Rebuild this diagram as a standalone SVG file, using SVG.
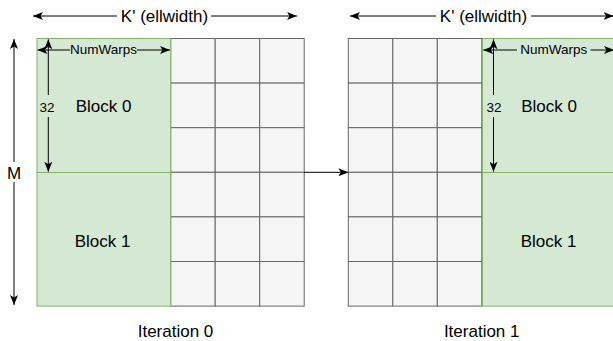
<svg xmlns="http://www.w3.org/2000/svg" width="613" height="341" viewBox="0 0 613 341">
  <style>
    .cell { fill: #f5f5f5; stroke: #666666; stroke-width: 1; }
    .block { fill: #d5e8d4; stroke: #82b366; stroke-width: 1; }
    .edge { fill: none; stroke: #000000; stroke-width: 1; }
    .both { marker-start: url(#arrow); marker-end: url(#arrow); }
    .one { marker-end: url(#arrow); }
    text { font-family: "Liberation Sans", Arial, sans-serif; fill: #000000; text-anchor: middle; }
    .big { font-size: 17px; }
    .small { font-size: 13.5px; }
  </style>
  <defs>
    <marker id="arrow" viewBox="0 0 10 8" refX="10" refY="4" markerWidth="10" markerHeight="8" markerUnits="userSpaceOnUse" orient="auto-start-reverse">
      <path d="M0,0 L10,4 L0,8 L2.5,4 Z" fill="#000000"/>
    </marker>
    <!-- 3 x 6 grid of cells, 44.5 x 44.6 each -->
    <g id="cellgrid">
      <rect class="cell" x="0" y="0" width="44.5" height="44.6"/>
      <rect class="cell" x="44.5" y="0" width="44.5" height="44.6"/>
      <rect class="cell" x="89" y="0" width="44.5" height="44.6"/>
      <rect class="cell" x="0" y="44.6" width="44.5" height="44.6"/>
      <rect class="cell" x="44.5" y="44.6" width="44.5" height="44.6"/>
      <rect class="cell" x="89" y="44.6" width="44.5" height="44.6"/>
      <rect class="cell" x="0" y="89.2" width="44.5" height="44.6"/>
      <rect class="cell" x="44.5" y="89.2" width="44.5" height="44.6"/>
      <rect class="cell" x="89" y="89.2" width="44.5" height="44.6"/>
      <rect class="cell" x="0" y="133.8" width="44.5" height="44.6"/>
      <rect class="cell" x="44.5" y="133.8" width="44.5" height="44.6"/>
      <rect class="cell" x="89" y="133.8" width="44.5" height="44.6"/>
      <rect class="cell" x="0" y="178.4" width="44.5" height="44.6"/>
      <rect class="cell" x="44.5" y="178.4" width="44.5" height="44.6"/>
      <rect class="cell" x="89" y="178.4" width="44.5" height="44.6"/>
      <rect class="cell" x="0" y="223" width="44.5" height="44.6"/>
      <rect class="cell" x="44.5" y="223" width="44.5" height="44.6"/>
      <rect class="cell" x="89" y="223" width="44.5" height="44.6"/>
    </g>
  </defs>

  <rect x="0" y="0" width="613" height="341" fill="#ffffff"/>

  <!-- Iteration 0 -->
  <g id="iter0-cells">
    <use href="#cellgrid" x="170.7" y="38.5"/>
  </g>
  <g id="iter0-block0">
    <rect class="block" x="37" y="38.5" width="133.7" height="134"/>
    <text class="big" x="103.5" y="112">Block 0</text>
  </g>
  <g id="iter0-block1">
    <rect class="block" x="37" y="172.5" width="133.7" height="133.6"/>
    <text class="big" x="102.5" y="246.5">Block 1</text>
  </g>
  <g id="iter0-label">
    <text class="big" x="175.5" y="336.5">Iteration 0</text>
  </g>

  <!-- Iteration 1 -->
  <g id="iter1-cells">
    <use href="#cellgrid" x="348.3" y="38.5"/>
  </g>
  <g id="iter1-block0">
    <rect class="block" x="482.5" y="38.5" width="133.7" height="134"/>
    <text class="big" x="549" y="112">Block 0</text>
  </g>
  <g id="iter1-block1">
    <rect class="block" x="482.5" y="172.5" width="133.7" height="133.6"/>
    <text class="big" x="548.5" y="246.5">Block 1</text>
  </g>
  <g id="iter1-label">
    <text class="big" x="481.7" y="336.5">Iteration 1</text>
  </g>

  <!-- Connectors and dimension arrows -->
  <g id="connectors">
    <!-- K' width, iteration 0 -->
    <path class="edge both" d="M33,16 H117 M211,16 H297"/>
    <text class="big" x="164.5" y="22">K' (ellwidth)</text>
    <!-- K' width, iteration 1 -->
    <path class="edge both" d="M350,16 H436 M531,16 H613.5"/>
    <text class="big" x="483.5" y="22">K' (ellwidth)</text>
    <!-- M height -->
    <path class="edge both" d="M14,39 V162 M14,182 V305"/>
    <text class="big" x="14" y="179">M</text>
    <!-- NumWarps / 32, iteration 0 -->
    <path class="edge both" d="M37.5,50 H70 M137,50 H170"/>
    <text class="small" x="103.5" y="54">NumWarps</text>
    <path class="edge both" d="M48.3,39.3 V95 M48.3,117 V171.7"/>
    <text class="small" x="47" y="112">32</text>
    <!-- NumWarps / 32, iteration 1 -->
    <path class="edge both" d="M483.3,50 H517 M590.5,50 H614"/>
    <text class="small" x="553.7" y="54">NumWarps</text>
    <path class="edge both" d="M493.5,39.3 V95 M493.5,117 V171.7"/>
    <text class="small" x="494" y="112">32</text>
    <!-- iteration 0 to iteration 1 -->
    <path class="edge one" d="M304,172.3 H348.3"/>
  </g>
</svg>
